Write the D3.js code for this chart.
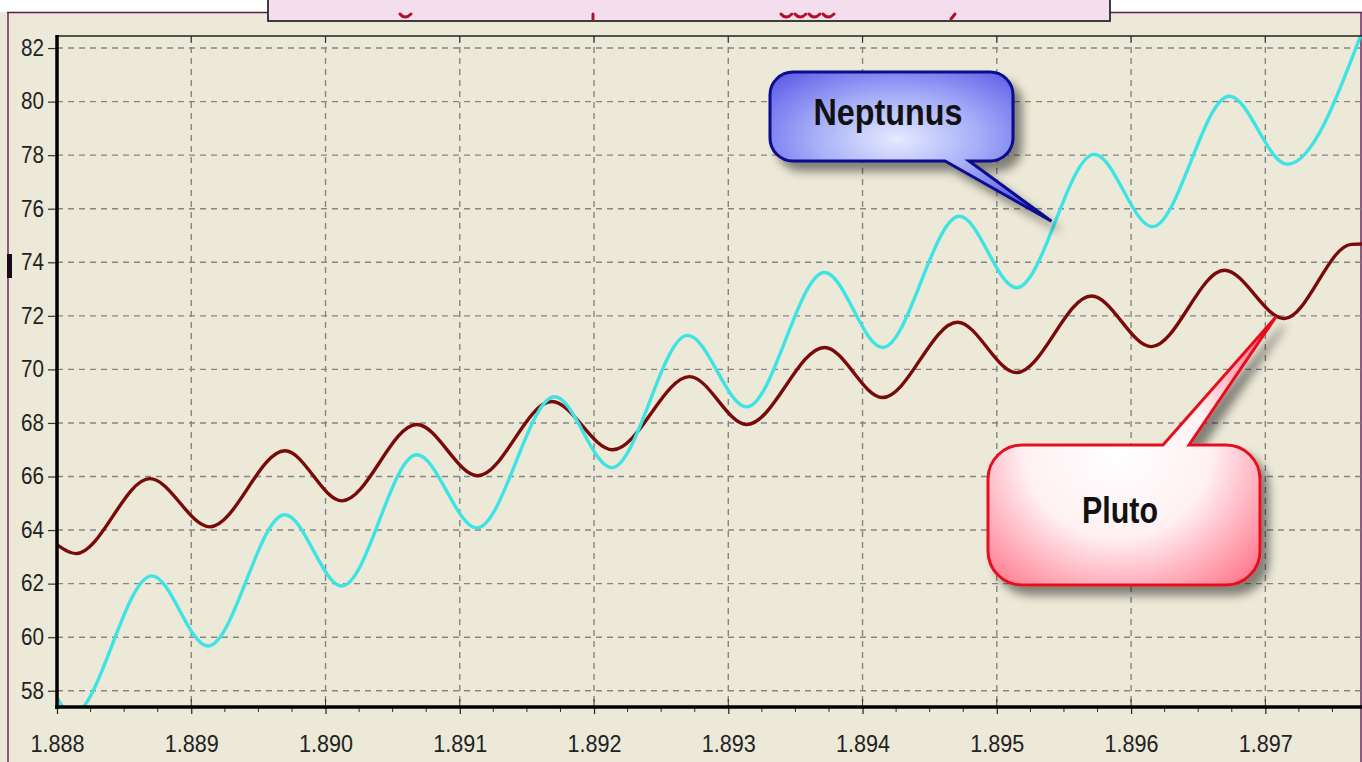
<!DOCTYPE html>
<html><head><meta charset="utf-8">
<script src="https://cdn.jsdelivr.net/npm/d3@7"></script>
<style>html,body{margin:0;padding:0;background:#ECE9D8;overflow:hidden}svg{display:block}</style>
</head><body><svg id="c" width="1362" height="762"></svg>
<script>
// ---------- data ----------
const xTicks = [1.888, 1.889, 1.890, 1.891, 1.892, 1.893, 1.894, 1.895, 1.896, 1.897];
const yTicks = [58, 60, 62, 64, 66, 68, 70, 72, 74, 76, 78, 80, 82];
const seriesNames = ["Neptunus", "Pluto"];

const nepX = [1.888000, 1.888112, 1.888707, 1.889124, 1.889697, 1.890122, 1.890680, 1.891127, 1.891707, 1.892132, 1.892697, 1.893137, 1.893717, 1.894149, 1.894722, 1.895147, 1.895727, 1.896159, 1.896732, 1.897164, 1.897720];
const nepY = [57.73, 57.10, 62.29, 59.67, 64.57, 61.91, 66.81, 64.08, 68.98, 66.33, 71.27, 68.60, 73.62, 70.82, 75.72, 73.05, 78.03, 75.33, 80.20, 77.66, 82.60];

const pluX = [1.888000, 1.888141, 1.888692, 1.889139, 1.889697, 1.890122, 1.890680, 1.891134, 1.891685, 1.892139, 1.892712, 1.893137, 1.893717, 1.894149, 1.894707, 1.895147, 1.895705, 1.896152, 1.896695, 1.897142, 1.897640, 1.897720];
const pluY = [63.45, 63.12, 65.92, 64.12, 66.96, 65.09, 67.94, 66.03, 68.80, 67.00, 69.73, 67.94, 70.82, 68.95, 71.76, 69.88, 72.74, 70.85, 73.70, 71.90, 74.67, 74.68];

// callout anchor points (data coordinates)
const nepAnchor = [1.895407, 75.53];
const pluAnchor = [1.897080, 71.97];

// ---------- drawing ----------
const svg = d3.select("#c");
const L = 57, T = 36, R = 1362, B = 706;
const x = d3.scaleLinear().domain([1.888, 1.89772]).range([L, R]);
const y = d3.scaleLinear().domain([57.43, 82.45]).range([B, T]);
const font = "'Liberation Sans', Arial, sans-serif";

const defs = svg.append("defs");
defs.append("clipPath").attr("id", "plotClip").append("rect")
  .attr("x", L).attr("y", T).attr("width", R - L).attr("height", B - T);
const sh = defs.append("filter").attr("id", "shadow").attr("x", "-20%").attr("y", "-20%").attr("width", "150%").attr("height", "160%");
sh.append("feDropShadow").attr("dx", 8).attr("dy", 9).attr("stdDeviation", 5)
  .attr("flood-color", "#000").attr("flood-opacity", 0.45);
const gb = defs.append("radialGradient").attr("id", "gBlue").attr("cx", "45%").attr("cy", "45%").attr("r", "65%");
gb.append("stop").attr("offset", "0%").attr("stop-color", "#E6EAFF");
gb.append("stop").attr("offset", "45%").attr("stop-color", "#A6AEF8");
gb.append("stop").attr("offset", "100%").attr("stop-color", "#5050E6");
const gr = defs.append("radialGradient").attr("id", "gRed").attr("cx", "45%").attr("cy", "50%").attr("r", "65%");
gr.append("stop").attr("offset", "0%").attr("stop-color", "#FFFFFF");
gr.append("stop").attr("offset", "50%").attr("stop-color", "#FFF0F3");
gr.append("stop").attr("offset", "100%").attr("stop-color", "#FF7A8E");

// background
svg.append("rect").attr("width", 1362).attr("height", 762).attr("fill", "#ECE9D8");
svg.append("rect").attr("width", 1362).attr("height", 12).attr("fill", "#FFFFFF");
svg.append("line").attr("x1", 7).attr("x2", 1362).attr("y1", 12.5).attr("y2", 12.5).attr("stroke", "#5A1A4E").attr("stroke-width", 1.5);
svg.append("line").attr("x1", 8).attr("x2", 8).attr("y1", 12).attr("y2", 762).attr("stroke", "#6A2A60").attr("stroke-width", 1.5);
svg.append("line").attr("x1", 1361).attr("x2", 1361).attr("y1", 12).attr("y2", 762).attr("stroke", "#6A2A60").attr("stroke-width", 1.5);

// legend box (mostly cut off at top) with fragments of its red entries
svg.append("rect").attr("x", 268).attr("y", -4).attr("width", 842).attr("height", 25)
  .attr("fill", "#F4DDEC").attr("stroke", "#2A2A2A").attr("stroke-width", 1.8);
const frag = svg.append("g").attr("fill", "none").attr("stroke", "#B0102A").attr("stroke-width", 3).attr("stroke-linecap", "round");
frag.append("path").attr("d", "M400,14 Q405,20 411,14");
frag.append("path").attr("d", "M593,14 L593,19");
[781, 795, 809, 823].forEach(px => frag.append("path").attr("d", `M${px},14 Q${px + 5},20 ${px + 11},14`));
frag.append("path").attr("d", "M955,14 L951,19");

// cut-off y-axis title fragment
svg.append("rect").attr("x", 7).attr("y", 254).attr("width", 5).attr("height", 24).attr("fill", "#1A0A18");

// grid
const grid = svg.append("g").attr("stroke", "#858585").attr("stroke-width", 1.4).attr("stroke-dasharray", "6,5");
yTicks.forEach(v => grid.append("line").attr("x1", L).attr("x2", R).attr("y1", y(v)).attr("y2", y(v)));
xTicks.slice(1).forEach(v => grid.append("line").attr("y1", T).attr("y2", B).attr("x1", x(v)).attr("x2", x(v)));

// series
const line = d3.line().x(d => x(d[0])).y(d => y(d[1])).curve(d3.curveMonotoneX);
const plot = svg.append("g").attr("clip-path", "url(#plotClip)");
plot.append("path").datum(pluX.map((v, i) => [v, pluY[i]]))
  .attr("d", line).attr("fill", "none").attr("stroke", "#7A0A0A").attr("stroke-width", 3.4).attr("stroke-linejoin", "round");
plot.append("path").datum(nepX.map((v, i) => [v, nepY[i]]))
  .attr("d", line).attr("fill", "none").attr("stroke", "#3EE4E4").attr("stroke-width", 3.4).attr("stroke-linejoin", "round");

// axes
const yAxis = svg.append("g").attr("transform", `translate(${L},0)`)
  .call(d3.axisLeft(y).tickValues(yTicks).tickSize(9).tickPadding(4).tickFormat(d3.format("d")));
yAxis.select(".domain").remove();
yAxis.selectAll("line").attr("stroke", "#333").attr("stroke-width", 1.2);
yAxis.selectAll("text").attr("font-family", font).attr("font-size", 23).attr("fill", "#222")
  .attr("textLength", 23).attr("lengthAdjust", "spacingAndGlyphs");

const xAxis = svg.append("g").attr("transform", `translate(0,${B + 1})`)
  .call(d3.axisBottom(x).tickValues(xTicks).tickSize(7).tickPadding(22).tickFormat(d3.format(".3f")));
xAxis.select(".domain").remove();
xAxis.selectAll("line").attr("stroke", "#222").attr("stroke-width", 1.2);
xAxis.selectAll("text").attr("font-family", font).attr("font-size", 23).attr("fill", "#222")
  .attr("textLength", 54).attr("lengthAdjust", "spacingAndGlyphs");

// minor x ticks
const minor = d3.range(0, 39).map(i => 1.888 + i * 0.00025).filter((v, i) => i % 4 !== 0);
svg.append("g").selectAll("line").data(minor).join("line")
  .attr("x1", d => x(d)).attr("x2", d => x(d)).attr("y1", B + 1).attr("y2", B + 6)
  .attr("stroke", "#333").attr("stroke-width", 1);
// inner major ticks (top & bottom)
svg.append("g").selectAll("line").data(xTicks.slice(1)).join("line")
  .attr("x1", d => x(d)).attr("x2", d => x(d)).attr("y1", T).attr("y2", T + 7)
  .attr("stroke", "#333").attr("stroke-width", 1);
svg.append("g").selectAll("line").data(xTicks.slice(1)).join("line")
  .attr("x1", d => x(d)).attr("x2", d => x(d)).attr("y1", B - 7).attr("y2", B)
  .attr("stroke", "#333").attr("stroke-width", 1);

// frame lines
svg.append("line").attr("x1", L).attr("x2", R).attr("y1", T).attr("y2", T).attr("stroke", "#222").attr("stroke-width", 1.6);
svg.append("line").attr("x1", L).attr("x2", L).attr("y1", T - 1).attr("y2", B + 3).attr("stroke", "#000").attr("stroke-width", 3.5);
svg.append("line").attr("x1", L - 2).attr("x2", R).attr("y1", B + 1).attr("y2", B + 1).attr("stroke", "#000").attr("stroke-width", 3.5);

// ---------- callouts ----------
function callout(x0, y0, x1, y1, r, side, t0, t1, tip) {
  const p = d3.path();
  p.moveTo(x0 + r, y0);
  if (side === "top") { p.lineTo(t0, y0); p.lineTo(tip[0], tip[1]); p.lineTo(t1, y0); }
  p.lineTo(x1 - r, y0);
  p.arcTo(x1, y0, x1, y0 + r, r);
  p.lineTo(x1, y1 - r);
  p.arcTo(x1, y1, x1 - r, y1, r);
  if (side === "bottom") { p.lineTo(t1, y1); p.lineTo(tip[0], tip[1]); p.lineTo(t0, y1); }
  p.lineTo(x0 + r, y1);
  p.arcTo(x0, y1, x0, y1 - r, r);
  p.lineTo(x0, y0 + r);
  p.arcTo(x0, y0, x0 + r, y0, r);
  p.closePath();
  return p.toString();
}

const nTip = [x(nepAnchor[0]), y(nepAnchor[1])];
svg.append("path").attr("d", callout(770, 72, 1013, 161, 23, "bottom", 945, 969, nTip))
  .attr("fill", "url(#gBlue)").attr("stroke", "#0A0A8C").attr("stroke-width", 3).attr("filter", "url(#shadow)");
svg.append("text").attr("x", 888).attr("y", 125).attr("text-anchor", "middle")
  .attr("font-family", font).attr("font-weight", "bold").attr("font-size", 37).attr("fill", "#111")
  .attr("textLength", 149).attr("lengthAdjust", "spacingAndGlyphs").text(seriesNames[0]);

const pTip = [x(pluAnchor[0]), y(pluAnchor[1])];
svg.append("path").attr("d", callout(988, 445, 1260, 585, 34, "top", 1163, 1189, pTip))
  .attr("fill", "url(#gRed)").attr("stroke", "#E8101C").attr("stroke-width", 3).attr("filter", "url(#shadow)");
svg.append("text").attr("x", 1120).attr("y", 523).attr("text-anchor", "middle")
  .attr("font-family", font).attr("font-weight", "bold").attr("font-size", 36).attr("fill", "#111")
  .attr("textLength", 76).attr("lengthAdjust", "spacingAndGlyphs").text(seriesNames[1]);
</script>
</body></html>
